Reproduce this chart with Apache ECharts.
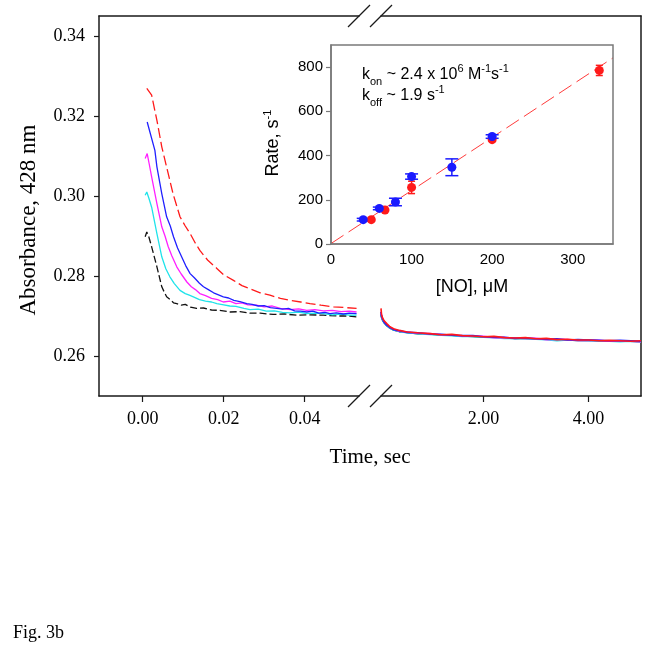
<!DOCTYPE html>
<html><head><meta charset="utf-8">
<script src="https://cdn.jsdelivr.net/npm/echarts@6/dist/echarts.min.js"></script>
<style>html,body{margin:0;padding:0;background:#fff}#c{width:645px;height:651px}</style>
</head><body><div id="c"></div>
<script>
// ---------- main panel: absorbance traces (time s, absorbance) ----------
const redLeft = [[0.0010,0.3269],[0.0022,0.3252],[0.0035,0.3189],[0.0047,0.3123],[0.0060,0.3068],[0.0075,0.3005],[0.0092,0.2948],[0.0105,0.2925],[0.0117,0.2906],[0.0130,0.2882],[0.0141,0.2864],[0.0160,0.2840],[0.0183,0.2819],[0.0200,0.2803],[0.0224,0.2789],[0.0245,0.2776],[0.0265,0.2768],[0.0290,0.2758],[0.0314,0.2752],[0.0340,0.2744],[0.0364,0.2739],[0.0390,0.2735],[0.0413,0.2731],[0.0440,0.2727],[0.0471,0.2723],[0.0500,0.2721],[0.0528,0.2719]];
const blueLeft = [[0.0011,0.3185],[0.0030,0.3114],[0.0035,0.3073],[0.0047,0.3006],[0.0059,0.2948],[0.0068,0.2925],[0.0076,0.2898],[0.0086,0.2870],[0.0096,0.2848],[0.0106,0.2826],[0.0117,0.2806],[0.0128,0.2795],[0.0140,0.2782],[0.0150,0.2773],[0.0162,0.2766],[0.0175,0.2758],[0.0187,0.2753],[0.0199,0.2748],[0.0212,0.2745],[0.0225,0.2739],[0.0240,0.2736],[0.0257,0.2731],[0.0270,0.2729],[0.0285,0.2725],[0.0300,0.2726],[0.0315,0.2721],[0.0331,0.2719],[0.0345,0.2717],[0.0360,0.2719],[0.0375,0.2713],[0.0390,0.2712],[0.0405,0.2710],[0.0420,0.2712],[0.0435,0.2707],[0.0450,0.2709],[0.0462,0.2706],[0.0478,0.2708],[0.0495,0.2705],[0.0510,0.2707],[0.0528,0.2706]];
const magentaLeft = [[0.0006,0.3094],[0.0011,0.3106],[0.0016,0.3080],[0.0022,0.3048],[0.0035,0.2981],[0.0047,0.2923],[0.0055,0.2900],[0.0063,0.2873],[0.0072,0.2850],[0.0084,0.2823],[0.0095,0.2805],[0.0109,0.2785],[0.0120,0.2773],[0.0130,0.2766],[0.0141,0.2756],[0.0155,0.2751],[0.0170,0.2744],[0.0185,0.2741],[0.0199,0.2735],[0.0215,0.2737],[0.0230,0.2731],[0.0245,0.2733],[0.0260,0.2728],[0.0281,0.2727],[0.0300,0.2723],[0.0320,0.2725],[0.0340,0.2719],[0.0364,0.2716],[0.0385,0.2718],[0.0405,0.2714],[0.0425,0.2716],[0.0446,0.2713],[0.0468,0.2714],[0.0490,0.2711],[0.0510,0.2712],[0.0528,0.2710]];
const cyanLeft = [[0.0006,0.3002],[0.0010,0.3010],[0.0015,0.2995],[0.0022,0.2972],[0.0035,0.2906],[0.0047,0.2848],[0.0057,0.2818],[0.0067,0.2798],[0.0078,0.2781],[0.0092,0.2764],[0.0105,0.2756],[0.0115,0.2752],[0.0125,0.2748],[0.0140,0.2741],[0.0155,0.2737],[0.0170,0.2735],[0.0183,0.2731],[0.0200,0.2728],[0.0215,0.2725],[0.0230,0.2724],[0.0250,0.2719],[0.0265,0.2716],[0.0285,0.2717],[0.0305,0.2712],[0.0325,0.2713],[0.0345,0.2709],[0.0364,0.2708],[0.0385,0.2710],[0.0405,0.2706],[0.0425,0.2707],[0.0446,0.2706],[0.0468,0.2703],[0.0490,0.2705],[0.0510,0.2702],[0.0528,0.2702]];
const blackLeft = [[0.0006,0.2898],[0.0010,0.2910],[0.0015,0.2898],[0.0022,0.2873],[0.0035,0.2823],[0.0047,0.2773],[0.0053,0.2760],[0.0059,0.2748],[0.0068,0.2741],[0.0076,0.2733],[0.0084,0.2731],[0.0095,0.2727],[0.0105,0.2729],[0.0118,0.2722],[0.0133,0.2719],[0.0150,0.2720],[0.0170,0.2715],[0.0190,0.2714],[0.0216,0.2710],[0.0240,0.2711],[0.0265,0.2707],[0.0290,0.2707],[0.0322,0.2704],[0.0350,0.2705],[0.0380,0.2702],[0.0410,0.2703],[0.0446,0.2702],[0.0480,0.2700],[0.0510,0.2700],[0.0528,0.2698]];

const redRight = [[0.05,0.2719],[0.06,0.2704],[0.08,0.2695],[0.11,0.2688],[0.16,0.2681],[0.22,0.2673],[0.29,0.2668],[0.4,0.2664],[0.55,0.2660],[0.75,0.2658],[0.98,0.2656],[1.2,0.2653],[1.4,0.2654],[1.6,0.2651],[1.8,0.2650],[2.0,0.2648],[2.2,0.2649],[2.4,0.2646],[2.6,0.2645],[2.8,0.2646],[3.0,0.2643],[3.2,0.2644],[3.4,0.2641],[3.6,0.2642],[3.8,0.2640],[4.0,0.2640],[4.2,0.2638],[4.4,0.2639],[4.6,0.2638],[4.8,0.2637],[5.0,0.2638]];
const blueRight = [[0.05,0.2710],[0.06,0.2700],[0.08,0.2692],[0.11,0.2684],[0.16,0.2677],[0.22,0.2671],[0.29,0.2666],[0.4,0.2663],[0.55,0.2659],[0.75,0.2658],[0.98,0.2655],[1.2,0.2654],[1.4,0.2652],[1.6,0.2651],[1.8,0.2651],[2.0,0.2648],[2.2,0.2647],[2.4,0.2647],[2.6,0.2644],[2.8,0.2645],[3.0,0.2643],[3.2,0.2642],[3.4,0.2643],[3.6,0.2640],[3.8,0.2641],[4.0,0.2640],[4.2,0.2639],[4.4,0.2638],[4.6,0.2639],[4.8,0.2638],[5.0,0.2637]];
const magentaRight = [[0.05,0.2711],[0.06,0.2701],[0.08,0.2693],[0.11,0.2686],[0.16,0.2679],[0.22,0.2672],[0.29,0.2667],[0.4,0.2662],[0.55,0.2660],[0.75,0.2657],[0.98,0.2656],[1.2,0.2653],[1.4,0.2653],[1.6,0.2650],[1.8,0.2650],[2.0,0.2649],[2.2,0.2646],[2.4,0.2646],[2.6,0.2645],[2.8,0.2644],[3.0,0.2644],[3.2,0.2641],[3.4,0.2642],[3.6,0.2641],[3.8,0.2639],[4.0,0.2639],[4.2,0.2639],[4.4,0.2637],[4.6,0.2638],[4.8,0.2637],[5.0,0.2636]];
const cyanRight = [[0.05,0.2706],[0.06,0.2698],[0.08,0.2690],[0.11,0.2683],[0.16,0.2676],[0.22,0.2670],[0.29,0.2665],[0.4,0.2661],[0.55,0.2658],[0.75,0.2656],[0.98,0.2654],[1.2,0.2652],[1.4,0.2651],[1.6,0.2649],[1.8,0.2649],[2.0,0.2647],[2.2,0.2646],[2.4,0.2644],[2.6,0.2644],[2.8,0.2643],[3.0,0.2642],[3.2,0.2641],[3.4,0.2638],[3.6,0.2640],[3.8,0.2639],[4.0,0.2638],[4.2,0.2637],[4.4,0.2637],[4.6,0.2636],[4.8,0.2637],[5.0,0.2635]];
const blackRight = [[0.05,0.2704],[0.06,0.2697],[0.08,0.2690],[0.11,0.2683],[0.16,0.2676],[0.22,0.2670],[0.29,0.2665],[0.4,0.2661],[0.55,0.2659],[0.75,0.2656],[0.98,0.2655],[1.2,0.2652],[1.4,0.2652],[1.6,0.2650],[1.8,0.2649],[2.0,0.2647],[2.2,0.2647],[2.4,0.2645],[2.6,0.2644],[2.8,0.2644],[3.0,0.2642],[3.2,0.2642],[3.4,0.2640],[3.6,0.2640],[3.8,0.2639],[4.0,0.2639],[4.2,0.2638],[4.4,0.2638],[4.6,0.2637],[4.8,0.2637],[5.0,0.2636]];

const leftTicks = [0, 0.02, 0.04];
const rightTicks = [2, 4];
const yTicks = [0.26, 0.28, 0.30, 0.32, 0.34];

// ---------- inset: rate vs [NO] ----------
const redNO = [50, 67, 100, 200, 333];
const redRate = [110, 154, 256, 472, 785];
const redErr = [4, 5, 28, 6, 23];
const blueNO = [40, 60, 80, 100, 150, 200];
const blueRate = [110, 161, 190, 305, 347, 486];
const blueErr = [6, 6, 17, 12, 38, 8];
const fitNO = [0, 350];
const fitRate = [2, 842];

const SERIF = '"Liberation Serif", "Times New Roman", serif';
const SANS = '"Liberation Sans", Arial, Helvetica, sans-serif';
const AX = '#1a1a1a';
const GR = '#7a7a7a';

const chart = echarts.init(document.getElementById('c'), null, {renderer: 'canvas'});

function lineS(data, color, dash, xi, yi, z, w) {
  return {type: 'line', xAxisIndex: xi, yAxisIndex: yi, data: data, showSymbol: false, symbol: 'none',
    animation: false, z: z, clip: true,
    lineStyle: {color: color, width: w || 1.3, type: dash || 'solid'}};
}
function errS(xs, ys, es, color, cap) {
  return {type: 'custom', xAxisIndex: 4, yAxisIndex: 2, z: 4, animation: false,
    data: xs.map((x, i) => [x, ys[i], es[i]]),
    encode: {x: 0, y: 1},
    renderItem: function (params, api) {
      const x = api.value(0), y = api.value(1), e = api.value(2);
      const lo = api.coord([x, y - e]), hi = api.coord([x, y + e]);
      const st = {stroke: color, lineWidth: 1.5};
      return {type: 'group', children: [
        {type: 'line', shape: {x1: lo[0], y1: lo[1], x2: hi[0], y2: hi[1]}, style: st},
        {type: 'line', shape: {x1: lo[0] - cap, y1: lo[1], x2: lo[0] + cap, y2: lo[1]}, style: st},
        {type: 'line', shape: {x1: hi[0] - cap, y1: hi[1], x2: hi[0] + cap, y2: hi[1]}, style: st}
      ]};
    }};
}

const hidden = {axisLabel: {show: false}, axisTick: {show: false}, splitLine: {show: false}};

const option = {
  animation: false,
  backgroundColor: '#ffffff',
  grid: [
    {left: 99, top: 16, width: 260, height: 380, outerBoundsMode: 'none'},
    {left: 381, top: 16, width: 260, height: 380, outerBoundsMode: 'none'},
    {left: 331, top: 45, width: 282, height: 199, outerBoundsMode: 'none', show: true,
     borderColor: GR, borderWidth: 1.5, backgroundColor: 'transparent', z: 5}
  ],
  xAxis: [
    {gridIndex: 0, type: 'value', position: 'bottom', min: -0.0108, max: 0.0534,
     axisLine: {show: true, onZero: false, lineStyle: {color: AX, width: 1.5}},
     axisTick: {show: true, customValues: leftTicks, length: 6, lineStyle: {color: AX, width: 1.2}},
     axisLabel: {show: true, customValues: leftTicks, margin: 14, color: '#000', fontFamily: SERIF, fontSize: 18,
       formatter: v => v.toFixed(2)},
     splitLine: {show: false}},
    Object.assign({gridIndex: 0, type: 'value', position: 'top', min: -0.0108, max: 0.0534,
     axisLine: {show: true, onZero: false, lineStyle: {color: AX, width: 1.5}}}, hidden),
    {gridIndex: 1, type: 'value', position: 'bottom', min: 0.05, max: 5.0,
     axisLine: {show: true, onZero: false, lineStyle: {color: AX, width: 1.5}},
     axisTick: {show: true, customValues: rightTicks, length: 6, lineStyle: {color: AX, width: 1.2}},
     axisLabel: {show: true, customValues: rightTicks, margin: 14, color: '#000', fontFamily: SERIF, fontSize: 18,
       formatter: v => v.toFixed(2)},
     splitLine: {show: false}},
    Object.assign({gridIndex: 1, type: 'value', position: 'top', min: 0.05, max: 5.0,
     axisLine: {show: true, onZero: false, lineStyle: {color: AX, width: 1.5}}}, hidden),
    {gridIndex: 2, type: 'value', min: 0, max: 350, interval: 100,
     axisLine: {show: true, onZero: false, lineStyle: {color: GR, width: 1.5}},
     axisTick: {show: false},
     axisLabel: {show: true, margin: 8, color: '#000', fontFamily: SANS, fontSize: 15,
       showMaxLabel: false},
     splitLine: {show: false}}
  ],
  yAxis: [
    {gridIndex: 0, type: 'value', position: 'left', min: 0.25, max: 0.345,
     axisLine: {show: true, onZero: false, lineStyle: {color: AX, width: 1.5}},
     axisTick: {show: true, customValues: yTicks, length: 5, lineStyle: {color: AX, width: 1.2}},
     axisLabel: {show: true, customValues: yTicks, margin: 14, color: '#000', fontFamily: SERIF, fontSize: 18,
       formatter: v => v.toFixed(2)},
     splitLine: {show: false}},
    Object.assign({gridIndex: 1, type: 'value', position: 'right', min: 0.25, max: 0.345,
     axisLine: {show: true, onZero: false, lineStyle: {color: AX, width: 1.5}}}, hidden),
    {gridIndex: 2, type: 'value', min: 0, max: 900, interval: 200,
     axisLine: {show: true, onZero: false, lineStyle: {color: GR, width: 1.5}},
     axisTick: {show: true, length: 5, lineStyle: {color: GR, width: 1.2}},
     axisLabel: {show: true, margin: 8, color: '#000', fontFamily: SANS, fontSize: 15, showMaxLabel: false},
     splitLine: {show: false}}
  ],
  series: [
    lineS(blackLeft, '#111111', [7, 3], 0, 0, 2),
    lineS(cyanLeft, '#1fe3ea', null, 0, 0, 2),
    lineS(magentaLeft, '#ff1fff', null, 0, 0, 2),
    lineS(blueLeft, '#2020ff', null, 0, 0, 2),
    lineS(redLeft, '#ff1a1a', [10, 4], 0, 0, 2),
    lineS(blackRight, '#111111', null, 2, 1, 2, 1.6),
    lineS(cyanRight, '#1fe3ea', null, 2, 1, 2, 1.6),
    lineS(magentaRight, '#ff1fff', null, 2, 1, 2, 1.6),
    lineS(blueRight, '#2020ff', null, 2, 1, 2, 1.6),
    lineS(redRight, '#ff1a1a', null, 2, 1, 2, 1.6),
    {type: 'line', xAxisIndex: 4, yAxisIndex: 2, data: fitNO.map((x, i) => [x, fitRate[i]]),
     showSymbol: false, symbol: 'none', z: 3, lineStyle: {color: '#ff3b3b', width: 1, type: [15, 6]}},
    errS(redNO, redRate, redErr, '#ff1a1a', 3.5),
    {type: 'scatter', xAxisIndex: 4, yAxisIndex: 2, z: 5, symbol: 'circle', symbolSize: 9,
     itemStyle: {color: '#ff1a1a', opacity: 1}, data: redNO.map((x, i) => [x, redRate[i]])},
    errS(blueNO, blueRate, blueErr, '#1a1aff', 6.5),
    {type: 'scatter', xAxisIndex: 4, yAxisIndex: 2, z: 6, symbol: 'circle', symbolSize: 9,
     itemStyle: {color: '#1a1aff', opacity: 1}, data: blueNO.map((x, i) => [x, blueRate[i]])}
  ],
  graphic: [
    {type: 'line', shape: {x1: 348, y1: 27, x2: 370, y2: 5}, style: {stroke: AX, lineWidth: 1.2}},
    {type: 'line', shape: {x1: 370, y1: 27, x2: 392, y2: 5}, style: {stroke: AX, lineWidth: 1.2}},
    {type: 'line', shape: {x1: 348, y1: 407, x2: 370, y2: 385}, style: {stroke: AX, lineWidth: 1.2}},
    {type: 'line', shape: {x1: 370, y1: 407, x2: 392, y2: 385}, style: {stroke: AX, lineWidth: 1.2}},
    {type: 'text', x: 29, y: 220, rotation: Math.PI / 2,
     style: {text: 'Absorbance, 428 nm', font: '23px ' + SERIF, fill: '#000', textAlign: 'center', textVerticalAlign: 'middle'}},
    {type: 'text', x: 370, y: 457,
     style: {text: 'Time, sec', font: '21px ' + SERIF, fill: '#000', textAlign: 'center', textVerticalAlign: 'middle'}},
    {type: 'text', x: 13, y: 633,
     style: {text: 'Fig. 3b', font: '18px ' + SERIF, fill: '#000', textAlign: 'left', textVerticalAlign: 'middle'}},
    {type: 'text', x: 472, y: 287, z: 10,
     style: {text: '[NO], μM', font: '18px ' + SANS, fill: '#000', textAlign: 'center', textVerticalAlign: 'middle'}},
    {type: 'text', x: 273, y: 143, rotation: Math.PI / 2, z: 10,
     style: {text: '{a|Rate, s}{s|-1}', textAlign: 'center', textVerticalAlign: 'middle',
       rich: {a: {fontFamily: SANS, fontSize: 18, lineHeight: 22, fill: '#000', color: '#000'},
              s: {fontFamily: SANS, fontSize: 11, lineHeight: 11, verticalAlign: 'top', fill: '#000', color: '#000'}}}},
    {type: 'text', x: 362, y: 75, z: 10,
     style: {text: '{n|k}{b|on}{n| ~ 2.4 x 10}{p|6}{n| M}{p|-1}{n|s}{p|-1}', textAlign: 'left', textVerticalAlign: 'middle',
       rich: {n: {fontFamily: SANS, fontSize: 16, lineHeight: 24, fill: '#000', color: '#000'},
              b: {fontFamily: SANS, fontSize: 11, lineHeight: 12, verticalAlign: 'bottom', fill: '#000', color: '#000'},
              p: {fontFamily: SANS, fontSize: 11, lineHeight: 12, verticalAlign: 'top', fill: '#000', color: '#000'}}}},
    {type: 'text', x: 362, y: 96, z: 10,
     style: {text: '{n|k}{b|off}{n| ~ 1.9 s}{p|-1}', textAlign: 'left', textVerticalAlign: 'middle',
       rich: {n: {fontFamily: SANS, fontSize: 16, lineHeight: 24, fill: '#000', color: '#000'},
              b: {fontFamily: SANS, fontSize: 11, lineHeight: 12, verticalAlign: 'bottom', fill: '#000', color: '#000'},
              p: {fontFamily: SANS, fontSize: 11, lineHeight: 12, verticalAlign: 'top', fill: '#000', color: '#000'}}}}
  ]
};
chart.setOption(option);
</script></body></html>
